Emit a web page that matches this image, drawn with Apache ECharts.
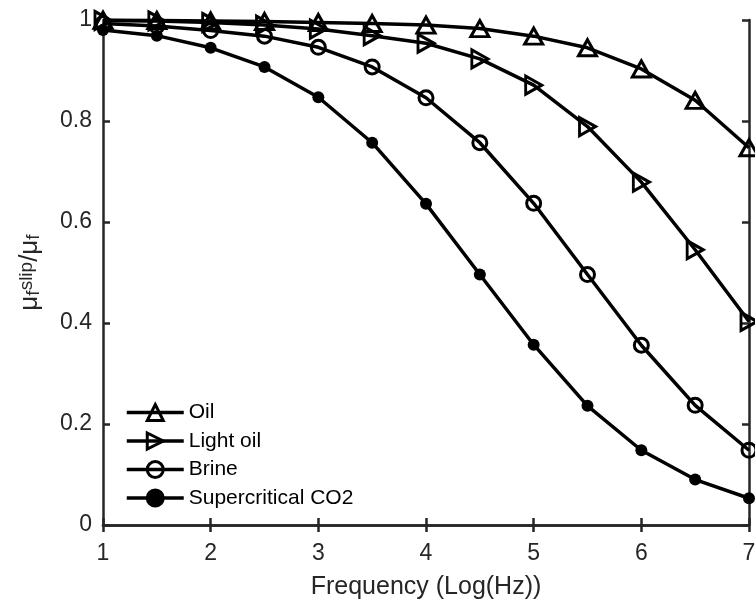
<!DOCTYPE html>
<html>
<head>
<meta charset="utf-8">
<script src="https://cdn.jsdelivr.net/npm/echarts@6/dist/echarts.min.js"></script>
<style>
html,body{margin:0;padding:0;background:#fff;}
#chart{width:755px;height:603px;}
</style>
</head>
<body>
<div id="chart"></div>
<script>
var freq = [1, 1.5, 2, 2.5, 3, 3.5, 4, 4.5, 5, 5.5, 6, 6.5, 7];
var oil = [0.9995, 0.999, 0.998, 0.997, 0.995, 0.993, 0.990, 0.983, 0.968, 0.945, 0.903, 0.841, 0.747];
var lightOil = [0.999, 0.998, 0.995, 0.990, 0.982, 0.969, 0.954, 0.923, 0.871, 0.789, 0.679, 0.545, 0.403];
var brine = [0.993, 0.988, 0.979, 0.968, 0.946, 0.907, 0.846, 0.757, 0.637, 0.496, 0.356, 0.237, 0.148];
var co2 = [0.980, 0.969, 0.945, 0.907, 0.847, 0.757, 0.636, 0.496, 0.357, 0.236, 0.148, 0.090, 0.053];
var seriesNames = ['Oil', 'Light oil', 'Brine', 'Supercritical CO2'];
var xTicks = [1, 2, 3, 4, 5, 6, 7];
var yTicks = [0, 0.2, 0.4, 0.6, 0.8, 1];

function pairs(ys) { return freq.map(function (x, i) { return [x, ys[i]]; }); }

var FONT = '"Liberation Sans", Arial, Helvetica, sans-serif';
var AX = '#262626';
var rightTri = 'path://M0,0L10,5L0,10Z';

function mkSeries(name, data, symbol, size, fill, bw) {
  return {
    name: name, type: 'line', data: pairs(data),
    symbol: symbol, symbolSize: size, showSymbol: true,
    lineStyle: { color: '#000', width: 3.5 },
    itemStyle: { color: fill, borderColor: '#000', borderWidth: bw },
    emphasis: { disabled: true },
    animation: false, clip: false
  };
}

var xAxisCommon = {
  type: 'value', min: 1, max: 7, interval: 1,
  axisLine: { show: true, lineStyle: { color: AX, width: 2.5 } },
  axisTick: { show: true, inside: true, length: 7, lineStyle: { color: AX, width: 2.5 } },
  splitLine: { show: false }
};
var yAxisCommon = {
  type: 'value', min: 0, max: 1, interval: 0.2,
  axisLine: { show: true, lineStyle: { color: AX, width: 2.5 } },
  axisTick: { show: true, inside: true, length: 7, lineStyle: { color: AX, width: 2.5 } },
  splitLine: { show: false }
};

var chart = echarts.init(document.getElementById('chart'), null, { renderer: 'canvas' });
chart.setOption({
  backgroundColor: '#fff',
  animation: false,
  textStyle: { fontFamily: FONT },
  grid: { left: 103, right: 6, top: 20, bottom: 78, containLabel: false, outerBoundsMode: 'none' },
  xAxis: [
    Object.assign({}, xAxisCommon, {
      position: 'bottom',
      name: 'Frequency (Log(Hz))', nameLocation: 'middle', nameGap: 50,
      nameTextStyle: { fontFamily: FONT, fontSize: 25, color: AX },
      axisLabel: { show: true, margin: 17, fontFamily: FONT, fontSize: 23, color: AX,
        formatter: function (v) { return xTicks.indexOf(v) >= 0 ? String(v) : ''; } }
    }),
    Object.assign({}, xAxisCommon, { position: 'top', axisLabel: { show: false } })
  ],
  yAxis: [
    Object.assign({}, yAxisCommon, {
      position: 'left',
      name: '{m|μ}{sub|f}{sup|slip}{m|/μ}{sub|f}',
      nameLocation: 'middle', nameRotate: 90, nameGap: 60,
      nameTextStyle: {
        fontFamily: FONT, color: AX, fontSize: 26, lineHeight: 42,
        rich: {
          m: { fontFamily: FONT, fontSize: 26, color: AX, lineHeight: 26, verticalAlign: 'middle' },
          sub: { fontFamily: FONT, fontSize: 19, color: AX, lineHeight: 19, verticalAlign: 'bottom' },
          sup: { fontFamily: FONT, fontSize: 19, color: AX, lineHeight: 19, verticalAlign: 'top' }
        }
      },
      axisLabel: { show: true, margin: 11, fontFamily: FONT, fontSize: 23, color: AX,
        formatter: function (v) {
          for (var i = 0; i < yTicks.length; i++) { if (Math.abs(yTicks[i] - v) < 1e-9) return String(yTicks[i]); }
          return '';
        } }
    }),
    Object.assign({}, yAxisCommon, { position: 'right', axisLabel: { show: false } })
  ],
  legend: {
    orient: 'vertical', left: 125, top: 402, padding: 0,
    itemWidth: 57, itemHeight: 20, itemGap: 7.5,
    data: seriesNames,
    lineStyle: { width: 3.5 },
    itemStyle: { borderWidth: 3 },
    textStyle: { fontFamily: FONT, fontSize: 21, color: '#000', lineHeight: 20 },
    selectedMode: false
  },
  series: [
    mkSeries(seriesNames[0], oil, 'triangle', [18, 16], 'rgba(255,255,255,0)', 3),
    mkSeries(seriesNames[1], lightOil, rightTri, [16, 18], 'rgba(255,255,255,0)', 3),
    mkSeries(seriesNames[2], brine, 'circle', 14, 'rgba(255,255,255,0)', 3),
    mkSeries(seriesNames[3], co2, 'circle', 12, '#000', 0)
  ]
});
</script>
</body>
</html>
